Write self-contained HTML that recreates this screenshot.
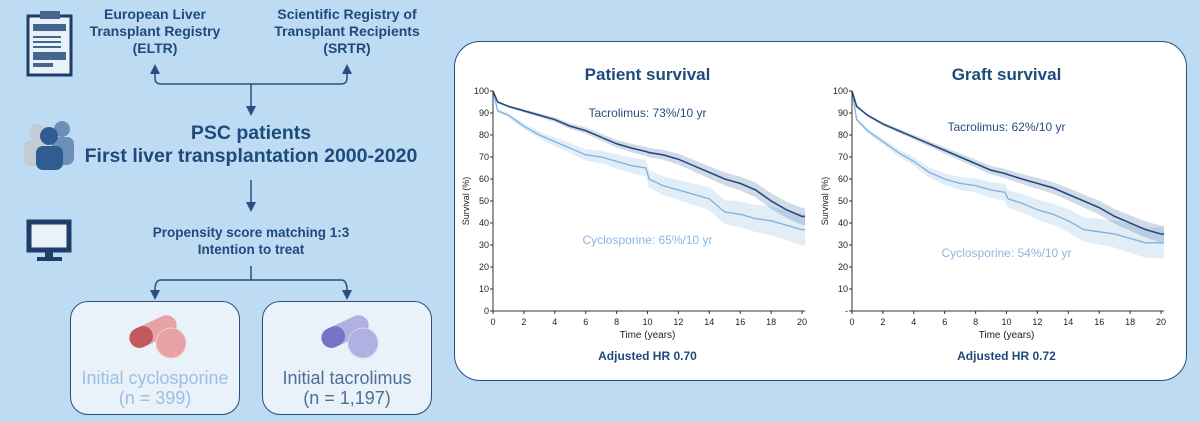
<!DOCTYPE html>
<html><head><meta charset="utf-8"><style>
body{margin:0;width:1200px;height:422px;background:#bddcf3;font-family:"Liberation Sans",sans-serif;position:relative;overflow:hidden}
.t{position:absolute;color:#1f4a7c;font-weight:bold;text-align:center;white-space:nowrap}
.box{position:absolute;background:#e9f1f9;border:1.5px solid #2a4f80;border-radius:18px}
.bt{position:absolute;width:100%;text-align:center;font-size:18px;line-height:20px}
</style></head><body>
<svg width="1200" height="422" style="position:absolute;left:0;top:0">
 <g>
  <rect x="28" y="16" width="43" height="59" fill="#e9f1f9" stroke="#1f3d68" stroke-width="3"/>
  <rect x="40" y="11" width="20" height="8" fill="#46658c"/>
  <rect x="33" y="24" width="33" height="7" fill="#46658c"/>
  <rect x="33" y="36" width="28" height="2" fill="#46658c"/><rect x="33" y="41" width="28" height="2" fill="#46658c"/>
  <rect x="33" y="46" width="28" height="2" fill="#46658c"/><rect x="33" y="52" width="33" height="8" fill="#46658c"/>
  <rect x="33" y="63" width="20" height="4" fill="#46658c"/>
 </g>
 <g>
  <circle cx="37" cy="132" r="8" fill="#c3cbd3"/><rect x="24" y="140" width="24" height="26" rx="7" fill="#c3cbd3"/>
  <circle cx="62" cy="129" r="8" fill="#6b8fb8"/><rect x="52" y="137" width="22" height="28" rx="7" fill="#6b8fb8"/>
  <circle cx="49" cy="136" r="9" fill="#2f5d92"/><rect x="36" y="146" width="27" height="24" rx="7" fill="#2f5d92"/>
 </g>
 <g>
  <rect x="29" y="222" width="40" height="28" fill="#e9f1f9" stroke="#1f3d68" stroke-width="5"/>
  <rect x="45" y="252" width="8" height="5" fill="#1f3d68"/><rect x="37" y="257" width="25" height="4" fill="#1f3d68"/>
 </g>
 <g fill="none" stroke="#2a4f80" stroke-width="1.5">
  <path d="M155 70 V78 Q155 84 161 84 H341 Q347 84 347 78 V70"/>
  <path d="M251 84 V110"/><path d="M251 180 V205"/>
  <path d="M251 266 V280 M155 296 V290 Q155 280 161 280 H341 Q347 280 347 290 V296"/>
 </g>
 <g fill="#2a4f80">
  <path d="M150 74 L155 64 L160 74Z"/><path d="M342 74 L347 64 L352 74Z"/>
  <path d="M246 106 L251 116 L256 106Z"/><path d="M246 202 L251 212 L256 202Z"/>
  <path d="M150 290 L155 300 L160 290Z"/><path d="M342 290 L347 300 L352 290Z"/>
 </g>
</svg>
<div class="t" style="left:80px;top:6px;width:150px;font-size:14px;line-height:17px">European Liver<br>Transplant Registry<br>(ELTR)</div>
<div class="t" style="left:262px;top:6px;width:170px;font-size:14px;line-height:17px">Scientific Registry of<br>Transplant Recipients<br>(SRTR)</div>
<div class="t" style="left:80px;top:122px;width:342px;font-size:19.5px;line-height:23px">PSC patients<br>First liver transplantation 2000-2020</div>
<div class="t" style="left:120px;top:224px;width:262px;font-size:13.5px;line-height:17px">Propensity score matching 1:3<br>Intention to treat</div>
<div class="box" style="left:70px;top:301px;width:168px;height:112px">
 <svg width="64" height="54" style="position:absolute;left:56px;top:6px"><g transform="rotate(-25 30 25)"><rect x="2" y="12" width="50" height="20" rx="10" fill="#e6a3a6"/><rect x="2" y="12" width="24" height="20" rx="10" fill="#c05a5d"/></g><circle cx="44" cy="35" r="15" fill="#e6a3a6" stroke="#f3caca" stroke-width="1"/></svg>
 <div class="bt" style="top:66px;color:#9cc0e3">Initial cyclosporine<br>(n = 399)</div></div>
<div class="box" style="left:262px;top:301px;width:168px;height:112px">
 <svg width="64" height="54" style="position:absolute;left:56px;top:6px"><g transform="rotate(-25 30 25)"><rect x="2" y="12" width="50" height="20" rx="10" fill="#b1b0e2"/><rect x="2" y="12" width="24" height="20" rx="10" fill="#7673c6"/></g><circle cx="44" cy="35" r="15" fill="#b1b0e2" stroke="#d0d0f0" stroke-width="1"/></svg>
 <div class="bt" style="top:66px;color:#4e6f98">Initial tacrolimus<br>(n = 1,197)</div></div>
<div style="position:absolute;left:454px;top:41px;width:731px;height:338px;background:#fff;border:1.5px solid #2a4f80;border-radius:26px"></div>
<svg id="ch" width="1200" height="422" style="position:absolute;left:0;top:0"></svg>
<script>
const years=[0,0.3,1,2,3,4,5,6,7,8,9,9.9,10.1,11,12,13,14,15,16,17,18,19,20];
const patientTac=[100,95,93,91,89,87,84,82,79,76,74,72.5,72,71,69,66,63,60,58,55,50,46,43];
const patientCyc=[100,91,89,84,80,77,74,71,70,68,66,65,60,57,55,53,51,45,44,42,41,39,37];
const graftTac=[100,93,89,85,82,79,76,73,70,67,64,62.5,62,60,58,56,53,50,47,43,40,37,35];
const graftCyc=[100,87,82,77,72,68,63,60,58,57,55,54,51,49,46,44,41,37,36,35,33,31,31];
const xTicks=[0,2,4,6,8,10,12,14,16,18,20];
const yTicks=[0,10,20,30,40,50,60,70,80,90,100];
const ns="http://www.w3.org/2000/svg",svg=document.getElementById('ch');
function mk(t,a,p){const e=document.createElementNS(ns,t);for(const k in a)e.setAttribute(k,a[k]);(p||svg).appendChild(e);return e;}
function chart(x0,title,tac,cyc,tacLbl,cycLbl,hr,zeroDash){
 const X=v=>x0+v*309/20, Y=v=>311-v*2.2;
 const g=mk('g',{});
 
 
 function line(arr){let d='';arr.forEach((v,i)=>{d+=(i?' L':'M')+X(years[i])+' '+Y(v);});d+=' H'+X(20.2);return d;}
 function band(arr,w,fill,name){const hw=i=>w*(0.25+years[i]/8);
  let d='';arr.forEach((v,i)=>{d+=(i?' L':'M')+X(years[i])+' '+Y(Math.min(100,v+hw(i)));});
  const n=arr.length-1;d+=' L'+X(20.2)+' '+Y(arr[n]+hw(n))+' L'+X(20.2)+' '+Y(arr[n]-hw(n));
  for(let i=n;i>=0;i--)d+=' L'+X(years[i])+' '+Y(arr[i]-hw(i));d+='Z';
  const e=mk('path',{d:d,fill:fill},g);}
 band(cyc,2.6,'rgba(170,205,235,0.35)','cyclosporine-ci');
 band(tac,1.4,'rgba(70,110,160,0.25)','tacrolimus-ci');
 let e=mk('path',{d:line(cyc),fill:'none',stroke:'#7fb0de','stroke-width':1.3},g);
 e=mk('path',{d:line(tac),fill:'none',stroke:'#234d80','stroke-width':1.6},g);
 mk('path',{d:`M${X(0)} ${Y(100)} V${Y(0)} H${X(20.2)}`,fill:'none',stroke:'#333','stroke-width':1},g);
 xTicks.forEach(t=>{mk('line',{x1:X(t),x2:X(t),y1:Y(0),y2:Y(0)+3,stroke:'#333'},g);const l=mk('text',{x:X(t),y:Y(0)+14,'font-size':9,'text-anchor':'middle',fill:'#222'},g);l.textContent=t;});
 yTicks.forEach(t=>{mk('line',{x1:X(0)-3,x2:X(0),y1:Y(t),y2:Y(t),stroke:'#333'},g);const l=mk('text',{x:X(0)-4,y:Y(t)+3,'font-size':9,'text-anchor':'end',fill:'#222'},g);l.textContent=(t==0&&zeroDash)?'-':t;});
 let l=mk('text',{x:X(10),y:338,'font-size':10,'text-anchor':'middle',fill:'#222'},g);l.textContent='Time (years)';
 l=mk('text',{transform:`translate(${X(0)-24},${Y(50)}) rotate(-90)`,'font-size':9,'text-anchor':'middle',fill:'#222'},g);l.textContent='Survival (%)';
 l=mk('text',{x:X(10),y:80,'font-size':17,'font-weight':'bold','text-anchor':'middle',fill:'#1f4a7c'},g);l.textContent=title;
 l=mk('text',{x:X(10),y:360,'font-size':12,'font-weight':'bold','text-anchor':'middle',fill:'#1f4a7c'},g);l.textContent=hr;
 l=mk('text',{x:X(10),y:tacLbl[1],'font-size':12,'text-anchor':'middle',fill:'#2a4f80'},g);l.textContent=tacLbl[0];
 l=mk('text',{x:X(10),y:cycLbl[1],'font-size':12,'text-anchor':'middle',fill:'#8cb8e2'},g);l.textContent=cycLbl[0];
}
chart(493,'Patient survival',patientTac,patientCyc,['Tacrolimus: 73%/10 yr',117],['Cyclosporine: 65%/10 yr',244],'Adjusted HR 0.70',false);
chart(852,'Graft survival',graftTac,graftCyc,['Tacrolimus: 62%/10 yr',131],['Cyclosporine: 54%/10 yr',257],'Adjusted HR 0.72',true);
</script>
</body></html>
